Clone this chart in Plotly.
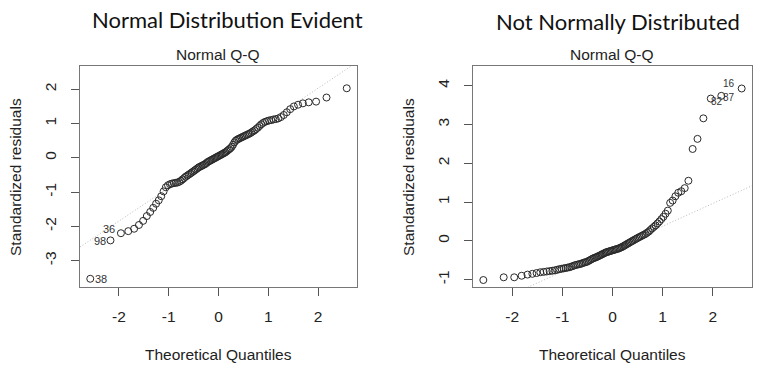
import numpy as np
import plotly.graph_objects as go

# Theoretical quantiles (n = 100), lower half; upper half mirrors it
q_lower = [-2.576, -2.170, -1.960, -1.812, -1.695, -1.598, -1.514, -1.440, -1.372, -1.311,
           -1.254, -1.200, -1.150, -1.103, -1.058, -1.015, -0.974, -0.935, -0.897, -0.860,
           -0.824, -0.789, -0.755, -0.723, -0.690, -0.659, -0.628, -0.598, -0.568, -0.539,
           -0.510, -0.482, -0.454, -0.426, -0.399, -0.372, -0.345, -0.319, -0.292, -0.266,
           -0.240, -0.215, -0.189, -0.164, -0.138, -0.113, -0.088, -0.063, -0.038, -0.013]
theoretical = q_lower + [-v for v in reversed(q_lower)]

# Left panel: standardized residuals (sorted)
resid_left = [-3.53, -2.41, -2.20, -2.14, -2.07, -1.96, -1.84, -1.70, -1.58, -1.46,
              -1.34, -1.24, -1.12, -0.98, -0.86, -0.80, -0.77, -0.75, -0.74, -0.73,
              -0.72, -0.70, -0.67, -0.63, -0.59, -0.55, -0.52, -0.49, -0.46, -0.43,
              -0.40, -0.37, -0.34, -0.31, -0.28, -0.26, -0.24, -0.22, -0.20, -0.18,
              -0.15, -0.12, -0.10, -0.08, -0.06, -0.04, -0.02, 0.00, 0.02, 0.04,
              0.06, 0.08, 0.10, 0.12, 0.14, 0.16, 0.19, 0.22, 0.25, 0.28,
              0.32, 0.38, 0.45, 0.50, 0.53, 0.55, 0.57, 0.59, 0.61, 0.63,
              0.65, 0.67, 0.69, 0.71, 0.74, 0.77, 0.80, 0.84, 0.88, 0.93,
              0.98, 1.02, 1.05, 1.07, 1.09, 1.10, 1.12, 1.13, 1.15, 1.19,
              1.25, 1.33, 1.42, 1.50, 1.55, 1.59, 1.62, 1.64, 1.76, 2.03]

# Right panel: standardized residuals (sorted)
resid_right = [-1.01, -0.94, -0.94, -0.90, -0.87, -0.85, -0.83, -0.81, -0.80, -0.79,
               -0.78, -0.77, -0.76, -0.745, -0.73, -0.72, -0.71, -0.70, -0.69, -0.68,
               -0.665, -0.65, -0.63, -0.62, -0.61, -0.60, -0.59, -0.575, -0.56, -0.55,
               -0.54, -0.52, -0.50, -0.48, -0.46, -0.445, -0.43, -0.42, -0.40, -0.385,
               -0.37, -0.35, -0.335, -0.32, -0.30, -0.29, -0.28, -0.27, -0.26, -0.25,
               -0.24, -0.23, -0.22, -0.21, -0.20, -0.19, -0.17, -0.16, -0.14, -0.12,
               -0.10, -0.08, -0.06, -0.04, -0.02, 0.00, 0.02, 0.04, 0.06, 0.08,
               0.10, 0.12, 0.14, 0.16, 0.18, 0.21, 0.24, 0.28, 0.32, 0.36,
               0.40, 0.45, 0.50, 0.56, 0.62, 0.70, 0.78, 0.98, 1.04, 1.15,
               1.24, 1.28, 1.36, 1.55, 2.37, 2.63, 3.16, 3.67, 3.74, 3.93]

# Identified points: (index into sorted arrays, label)
left_ids = [(0, "38"), (1, "98"), (2, "36")]
right_ids = [(97, "82"), (98, "87"), (99, "16")]

x_ticks = [-2, -1, 0, 1, 2]
x_ticklabels = ["-2", "-1", "0", "1", "2"]
left_yticks = [-3, -2, -1, 0, 1, 2]
left_yticklabels = ["-3", "-2", "-1", "0", "1", "2"]
right_yticks = [-1, 0, 1, 2, 3, 4]
right_yticklabels = ["-1", "0", "1", "2", "3", "4"]
x_range = [-2.782, 2.782]
left_yrange = [-3.77, 2.68]
right_yrange = [-1.19, 4.51]

W, H = 764, 374
FONT = "Liberation Sans, Arial, sans-serif"
INK = "#222222"
FS = 15.5


def qqline(y):
    q1, q3 = np.percentile(y, [25, 75])
    z1, z3 = -0.6744897501960817, 0.6744897501960817
    slope = (q3 - q1) / (z3 - z1)
    inter = q1 - slope * z1
    xs = np.array(x_range)
    return xs, inter + slope * xs


fig = go.Figure()

panels = [
    ("x", "y", resid_left),
    ("x2", "y2", resid_right),
]
for xa, ya, res in panels:
    lx, ly = qqline(res)
    fig.add_trace(go.Scatter(x=lx, y=ly, mode="lines", xaxis=xa, yaxis=ya,
                             line=dict(color="#bbbbbb", width=1, dash="1px,2px"),
                             hoverinfo="skip", showlegend=False))
    fig.add_trace(go.Scatter(x=theoretical, y=res, mode="markers", xaxis=xa, yaxis=ya,
                             marker=dict(symbol="circle-open", size=7,
                                         color="#2a2a2a", line=dict(width=1)),
                             showlegend=False, cliponaxis=False))

axis_common = dict(showgrid=False, zeroline=False, showline=True, mirror=True,
                   linecolor="#777777", linewidth=1, ticks="outside", ticklen=8,
                   tickcolor="#555555", tickwidth=1,
                   tickfont=dict(family=FONT, size=FS, color=INK))

L0, L1 = 80 / W, 357 / W
R0, R1 = 473 / W, 752 / W
YB, YT = 1 - 287 / H, 1 - 66 / H

fig.update_layout(
    width=W, height=H, margin=dict(l=0, r=0, t=0, b=0),
    paper_bgcolor="white", plot_bgcolor="white",
    xaxis=dict(domain=[L0, L1], range=x_range, tickvals=x_ticks, ticktext=x_ticklabels,
               ticklabelstandoff=7, anchor="y", **axis_common),
    yaxis=dict(domain=[YB, YT], range=left_yrange, tickvals=left_yticks,
               ticktext=left_yticklabels, tickangle=-90, ticklabelstandoff=9,
               anchor="x", **axis_common),
    xaxis2=dict(domain=[R0, R1], range=x_range, tickvals=x_ticks, ticktext=x_ticklabels,
                ticklabelstandoff=7, anchor="y2", **axis_common),
    yaxis2=dict(domain=[YB, YT], range=right_yrange, tickvals=right_yticks,
                ticktext=right_yticklabels, tickangle=-90, ticklabelstandoff=9,
                anchor="x2", **axis_common),
)

ann = []
# Big titles
ann.append(dict(text="Normal Distribution Evident", x=227 / W, y=1 - 20 / H,
                xref="paper", yref="paper", showarrow=False, xanchor="center",
                yanchor="middle", font=dict(family="Lato, sans-serif", size=22, color="#111111")))
ann.append(dict(text="Not Normally Distributed", x=618 / W, y=1 - 21 / H,
                xref="paper", yref="paper", showarrow=False, xanchor="center",
                yanchor="middle", font=dict(family="Lato, sans-serif", size=22, color="#111111")))
# Panel subtitles
for cx in [218, 612]:
    ann.append(dict(text="Normal Q-Q", x=cx / W, y=1 - 54 / H, xref="paper", yref="paper",
                    showarrow=False, xanchor="center", yanchor="middle",
                    font=dict(family=FONT, size=FS, color=INK)))
# Axis titles
for cx in [218, 612]:
    ann.append(dict(text="Theoretical Quantiles", x=cx / W, y=1 - 354 / H, xref="paper",
                    yref="paper", showarrow=False, xanchor="center", yanchor="middle",
                    font=dict(family=FONT, size=FS, color=INK)))
for cx in [15, 408]:
    ann.append(dict(text="Standardized residuals", x=cx / W, y=1 - 177 / H, xref="paper",
                    yref="paper", showarrow=False, xanchor="center", yanchor="middle",
                    textangle=-90, font=dict(family=FONT, size=FS, color=INK)))

# Point labels
lab_font = dict(family=FONT, size=11, color="#333333")
left_style = {"38": ("left", 4, 0), "98": ("right", -3, -1), "36": ("right", -5, 4)}
for i, lab in left_ids:
    xa, xs, ys = left_style[lab]
    ann.append(dict(text=lab, x=theoretical[i], y=resid_left[i], xref="x", yref="y",
                    showarrow=False, xanchor=xa, yanchor="middle", xshift=xs, yshift=ys,
                    font=lab_font, borderpad=0))
lab_font_r = dict(family=FONT, size=10, color="#333333")
right_style = {"82": ("left", -1, -3), "87": ("left", 1, -2), "16": ("right", -6, 5)}
for i, lab in right_ids:
    xa, xs, ys = right_style[lab]
    ann.append(dict(text=lab, x=theoretical[i], y=resid_right[i], xref="x2", yref="y2",
                    showarrow=False, xanchor=xa, yanchor="middle", xshift=xs, yshift=ys,
                    font=lab_font_r, borderpad=0))

fig.update_layout(annotations=ann)
fig.write_html("out.html", config={"displayModeBar": False},
               post_script="document.body.style.margin='0';")
